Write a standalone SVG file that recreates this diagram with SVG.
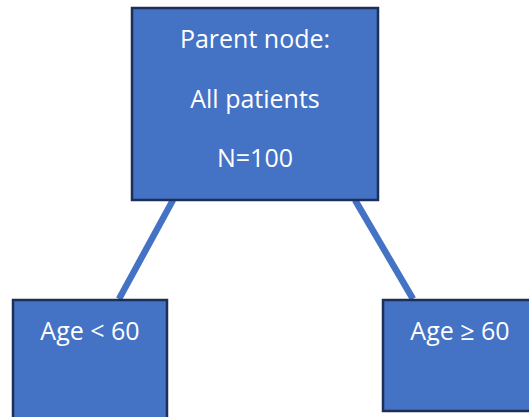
<svg xmlns="http://www.w3.org/2000/svg" width="529" height="417" viewBox="0 0 529 417">
<style>
.node{fill:#4472C4;stroke:#1B2F57;stroke-width:2.5}
.lbl{fill:#FFFFFF;font-family:"Open Sans","Liberation Sans",sans-serif;font-size:25px;text-anchor:middle}
.edge{stroke:#4472C4;stroke-width:6.5;fill:none}
</style>
<rect width="529" height="417" fill="#FFFFFF"/>
<g id="connectors">
<line class="edge" x1="173" y1="200" x2="119" y2="299"/>
<line class="edge" x1="355" y1="200" x2="413" y2="299"/>
</g>
<g id="parent">
<rect class="node" x="132" y="8" width="246" height="192"/>
<text class="lbl" x="255" y="48">Parent node:</text>
<text class="lbl" x="255" y="108">All patients</text>
<text class="lbl" x="255" y="167">N=100</text>
</g>
<g id="left">
<rect class="node" x="13" y="300" width="154" height="130"/>
<text class="lbl" x="90" y="340">Age &lt; 60</text>
</g>
<g id="right">
<rect class="node" x="383" y="300" width="156" height="111"/>
<text class="lbl" x="460" y="340">Age ≥ 60</text>
</g>
</svg>
